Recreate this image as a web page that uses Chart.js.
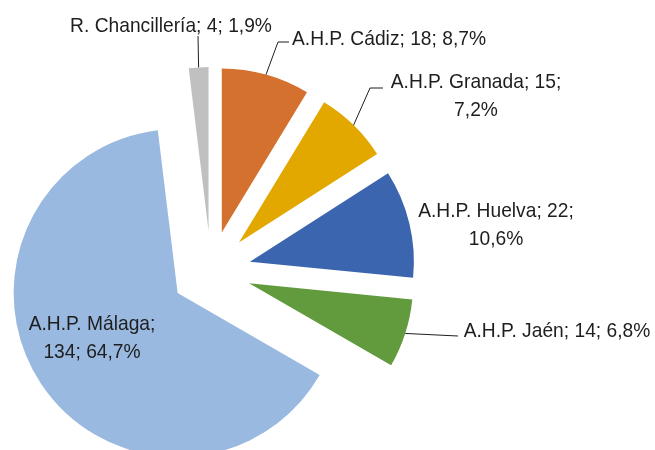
<!DOCTYPE html>
<html>
<head>
<meta charset="utf-8">
<script src="https://cdn.jsdelivr.net/npm/chart.js@4.4.1/dist/chart.umd.min.js"></script>
<style>
  html, body { margin: 0; padding: 0; background: #fff; }
</style>
</head>
<body>
<canvas id="pieChart" width="655" height="450"></canvas>
<script>
// Datos del gráfico
const archivos = ['A.H.P. Cádiz', 'A.H.P. Granada', 'A.H.P. Huelva', 'A.H.P. Jaén', 'A.H.P. Málaga', 'R. Chancillería'];
const documentos = [18, 15, 22, 14, 134, 4];
const colores = ['#D5712E', '#E3A800', '#3C65AF', '#629A3E', '#99B9E0', '#C0C0C0'];

// Geometría de la tarta (radio y separación de las porciones, en px)
const RADIO = 164;
const SEPARACION = 40;

// Posición de cada etiqueta: centro x, línea base y, partes en la primera línea, línea guía
const etiquetas = [
  { x: 389, y: 45, corte: 3, guia: [[278, 42], [289, 42]] },
  { x: 476, y: 88, corte: 2, guia: [[370, 88], [383, 88]] },
  { x: 496, y: 217, corte: 2, guia: null },
  { x: 557, y: 337, corte: 3, guia: [[458, 336]] },
  { x: 92, y: 330, corte: 1, guia: null },
  { x: 171, y: 32, corte: 3, guia: [[198, 36]] }
];

const total = documentos.reduce((a, b) => a + b, 0);
const porcentaje = (v) => (v / total * 100).toFixed(1).replace('.', ',') + '%';

// Dibuja cada porción desplazada hacia fuera (tarta "explotada")
const explosion = {
  id: 'explosion',
  beforeDatasetDraw(chart, args) {
    const ctx = chart.ctx;
    args.meta.data.forEach((arc) => {
      const medio = (arc.startAngle + arc.endAngle) / 2;
      ctx.save();
      ctx.translate(Math.cos(medio) * SEPARACION, Math.sin(medio) * SEPARACION);
      arc.draw(ctx);
      ctx.restore();
    });
    return false;
  }
};

const rotulos = {
  id: 'rotulos',
  afterDatasetsDraw(chart) {
    const ctx = chart.ctx;
    ctx.save();
    ctx.font = '21px "Liberation Sans", Arial, sans-serif';
    ctx.fillStyle = '#1e1e1e';
    ctx.strokeStyle = '#1e1e1e';
    ctx.lineWidth = 1;
    ctx.textAlign = 'center';
    ctx.textBaseline = 'alphabetic';
    chart.getDatasetMeta(0).data.forEach((arc, i) => {
      const et = etiquetas[i];
      const medio = (arc.startAngle + arc.endAngle) / 2;
      if (et.guia) {
        const r = RADIO + SEPARACION;
        ctx.beginPath();
        ctx.moveTo(arc.x + Math.cos(medio) * r, arc.y + Math.sin(medio) * r);
        et.guia.forEach(([px, py]) => ctx.lineTo(px, py));
        ctx.stroke();
      }
      const partes = [archivos[i], documentos[i], porcentaje(documentos[i])];
      const lineas = [partes.slice(0, et.corte).join('; ')];
      if (et.corte < 3) {
        lineas[0] += ';';
        lineas.push(partes.slice(et.corte).join('; '));
      }
      // letra estrecha: se comprime en horizontal
      lineas.forEach((txt, k) => {
        ctx.save();
        ctx.translate(et.x, et.y + k * 28);
        ctx.scale(0.915, 1);
        ctx.fillText(txt, 0, 0);
        ctx.restore();
      });
    });
    ctx.restore();
  }
};

new Chart(document.getElementById('pieChart'), {
  type: 'pie',
  data: {
    labels: archivos,
    datasets: [{
      data: documentos,
      backgroundColor: colores,
      borderWidth: 0,
      radius: RADIO,
      clip: false
    }]
  },
  options: {
    responsive: false,
    animation: false,
    events: [],
    layout: { padding: { left: 0, right: 233, top: 92, bottom: 0 } },
    plugins: {
      legend: { display: false },
      tooltip: { enabled: false }
    }
  },
  plugins: [explosion, rotulos]
});
</script>
</body>
</html>
